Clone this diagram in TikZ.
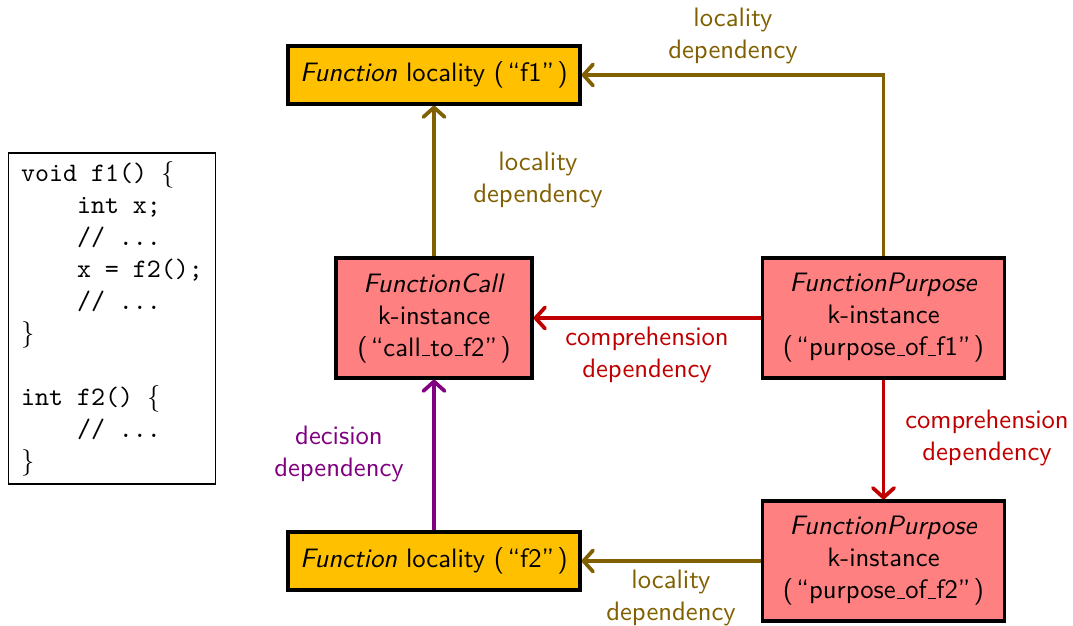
\documentclass[tikz,border=0pt]{standalone}
\usetikzlibrary{arrows.meta}
\definecolor{locol}{RGB}{128,96,0}
\definecolor{compcol}{RGB}{192,0,0}
\definecolor{deccol}{RGB}{128,0,128}
\definecolor{goldfill}{RGB}{255,192,0}
\definecolor{pinkfill}{RGB}{255,128,128}
\newcommand\ulow{\leavevmode\kern.06em\vbox{\hrule width.3em height 0.45pt}}
\newcommand\oq{(\kern1.2pt``}
\newcommand\cq{''\kern1.2pt)}
\begin{document}
\begin{tikzpicture}[x=0.375pt,y=-0.375pt,font=\sffamily,
  locbox/.style={draw=black,line width=1.2pt,fill=goldfill,minimum width=109.5pt,minimum height=21.75pt,inner sep=0pt},
  kbox/.style={draw=black,line width=1.2pt,fill=pinkfill,minimum height=45pt,inner sep=0pt,align=center},
  dep/.style={line width=1.4pt,-{Straight Barb[length=3.6pt,width=8pt,line cap=round,line join=round]}},
  lbl/.style={align=center,inner sep=0pt}]
\useasboundingbox (0,0) rectangle (1073,626);
% code box
\node[draw=black,line width=0.5pt,minimum width=77.6pt,minimum height=124pt,inner sep=3pt,align=left,font=\ttfamily] (code) at (112,318.5)
{void f1() $\{$\\
\hspace*{2.1em}int x;\\
\hspace*{2.1em}// ...\\
\hspace*{2.1em}x = f2();\\
\hspace*{2.1em}// ...\\
$\}$\\
\mbox{}\\
int f2() $\{$\\
\hspace*{2.1em}// ...\\
$\}$};
% boxes
\node[locbox] (f1) at (434,75) {\textit{Function} locality \oq f1\cq};
\node[locbox] (f2) at (434,561) {\textit{Function} locality \oq f2\cq};
\node[kbox,minimum width=73.5pt] (fc) at (434,318) {\textit{FunctionCall}\\k-instance\\\oq call\ulow to\ulow f2\cq};
\node[kbox,minimum width=91pt] (fp1) at (883.5,318) {\textit{FunctionPurpose}\\k-instance\\\oq purpose\ulow of\ulow f1\cq};
\node[kbox,minimum width=91pt] (fp2) at (883.5,561) {\textit{FunctionPurpose}\\k-instance\\\oq purpose\ulow of\ulow f2\cq};
% connectors
\coordinate (corner) at (fp1.north |- f1.east);
\draw[dep,locol] (fc.north) -- (f1.south);
\draw[dep,locol] (fp1.north) -- (corner) -- (f1.east);
\draw[dep,compcol] (fp1.west) -- (fc.east);
\draw[dep,compcol] (fp1.south) -- (fp2.north);
\draw[dep,locol] (fp2.west) -- (f2.east);
\draw[dep,deccol] (f2.north) -- (fc.south);
% labels
\node[lbl,text=locol] (l1) at (538,180) {locality\\dependency};
\node[lbl,text=locol] (l2) at (733,36) {locality\\dependency};
\node[lbl,text=compcol] (l3) at (647,355) {comprehension\\dependency};
\node[lbl,text=compcol] (l4) at (987,438) {comprehension\\dependency};
\node[lbl,text=locol] (l5) at (671,598) {locality\\dependency};
\node[lbl,text=deccol] (l6) at (339,454) {decision\\dependency};
\end{tikzpicture}
\end{document}
